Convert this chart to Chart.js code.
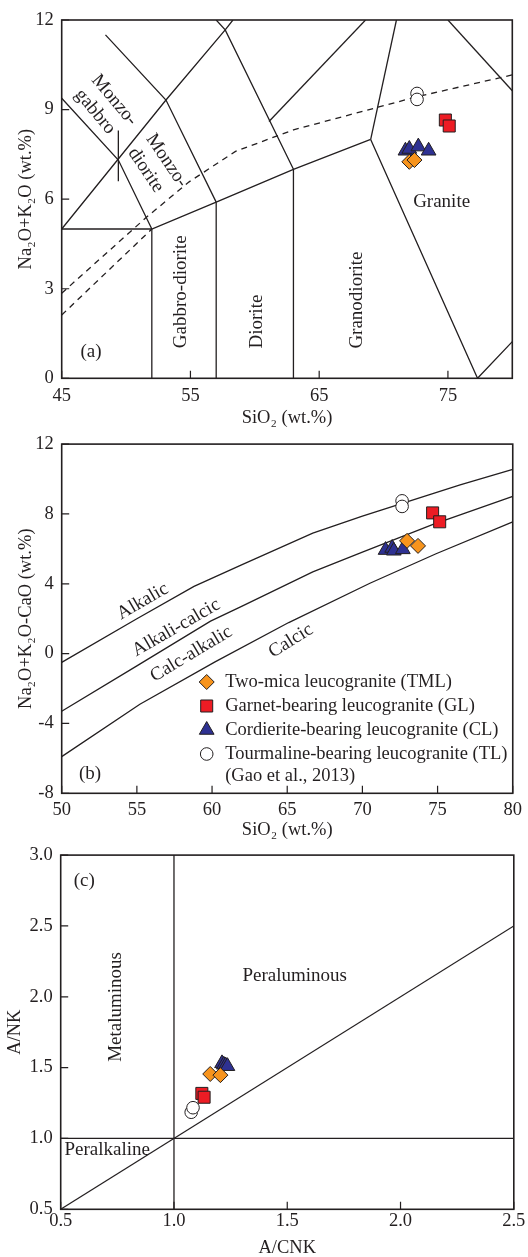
<!DOCTYPE html>
<html>
<head>
<meta charset="utf-8">
<title>Leucogranite classification diagrams</title>
<script src="https://cdn.jsdelivr.net/npm/chart.js@4.4.1/dist/chart.umd.min.js"></script>
<style>
  html, body { margin: 0; padding: 0; background: #fff; }
  #wrap { position: relative; width: 528px; height: 1257px; overflow: hidden; }
  #wrap canvas { position: absolute; left: 0; }
</style>
</head>
<body>
<div id="wrap">
  <canvas id="tas" width="528" height="428" style="top:0px"></canvas>
  <canvas id="mali" width="528" height="425" style="top:425px"></canvas>
  <canvas id="asi" width="528" height="421" style="top:836px"></canvas>
</div>
<script>
const FONT = "'Liberation Serif', 'Times New Roman', serif";
const INK = '#231f20';

// groups, same order in every panel
const groupNames = [
  'Two-mica leucogranite (TML)',
  'Garnet-bearing leucogranite (GL)',
  'Cordierite-bearing leucogranite (CL)',
  'Tourmaline-bearing leucogranite (TL)'
];
const legendNote = '(Gao et al., 2013)';

// ---- (a) TAS : [SiO2, Na2O+K2O]
const tasXTicks = [45, 55, 65, 75];
const tasYTicks = [0, 3, 6, 9, 12];
const tasTML = [[72.0, 7.25], [72.4, 7.31]];
const tasGL  = [[74.8, 8.65], [75.1, 8.45]];
const tasCL  = [[71.7, 7.62], [72.0, 7.68], [72.7, 7.76], [73.5, 7.62]];
const tasTL  = [[72.6, 9.54], [72.6, 9.34]];
const tasFields = [
  [[45, 5], [52, 5], [57, 5.9], [63, 7], [69, 8]],
  [[52, 0], [52, 5]],
  [[57, 0], [57, 5.9]],
  [[63, 0], [63, 7]],
  [[69, 8], [77.3, 0], [80, 1.23]],
  [[69, 8], [71, 12]],
  [[75, 12], [80, 9.63]],
  [[45, 9.38], [49.4, 7.31], [52, 5]],
  [[45, 5], [53.1, 9.32], [57.7, 11.67], [58.3, 12]],
  [[48.4, 11.5], [53.1, 9.32], [57, 5.9]],
  [[57, 12], [57.7, 11.67], [63, 7]],
  [[61.1, 8.6], [68.6, 12]],
  [[49.4, 8.3], [49.4, 6.6]]
];
const tasAlkaline = [
  [[45, 2.85], [51.6, 5.4], [54.9, 6.58], [58.5, 7.6], [63, 8.32], [72.6, 9.43], [80, 10.16]],
  [[45, 2.12], [52, 5]]
];

// ---- (b) MALI : [SiO2, Na2O+K2O-CaO]
const maliXTicks = [50, 55, 60, 65, 70, 75, 80];
const maliYTicks = [-8, -4, 0, 4, 8, 12];
const maliTML = [[72.97, 6.46], [73.7, 6.17]];
const maliGL  = [[74.67, 8.06], [75.14, 7.55]];
const maliCL  = [[71.54, 5.93], [71.98, 6.05], [72.09, 5.89], [72.69, 5.97]];
const maliTL  = [[72.64, 8.75], [72.64, 8.43]];
const maliAlkalic  = [[50, -0.5], [55, 2.0], [58.8, 3.85], [62, 5.1], [66.7, 6.9], [70, 7.87], [76.5, 9.66], [80, 10.55]];
const maliAlkCalc  = [[50, -3.3], [55, -0.7], [59.9, 1.86], [62, 2.72], [66.7, 4.68], [70, 5.81], [74.7, 7.4], [80, 9.0]];
const maliCalcAlk  = [[50, -5.9], [55.2, -2.9], [60.2, -0.47], [65.1, 1.78], [70.5, 4.03], [74.9, 5.72], [80, 7.55]];

// ---- (c) A/NK vs A/CNK
const asiXTicks = [0.5, 1.0, 1.5, 2.0, 2.5];
const asiYTicks = [0.5, 1.0, 1.5, 2.0, 2.5, 3.0];
const asiTML = [[1.16, 1.455], [1.205, 1.447]];
const asiGL  = [[1.123, 1.318], [1.133, 1.291]];
const asiCL  = [[1.212, 1.53], [1.22, 1.52], [1.228, 1.515], [1.236, 1.51]];
const asiTL  = [[1.076, 1.185], [1.084, 1.217]];
const asiLines = [
  [[1, 0.5], [1, 3]],
  [[0.5, 1], [2.5, 1]],
  [[0.5, 0.5], [2.5, 2.5]]
];

// marker look per group
const markStyles = [
  { style: 'rectRot',  r: 7.5, fill: '#f7941d' },
  { style: 'rect',     r: 8.5, fill: '#ed1c24' },
  { style: 'triangle', r: 8.5, fill: '#2e3192' },
  { style: 'circle',   r: 6.3, fill: '#ffffff' }
];

const pts = arr => arr.map(([x, y]) => ({ x, y }));

function markerSets(series) {
  return series.map((data, i) => ({
    label: groupNames[i],
    data: pts(data),
    showLine: false,
    pointStyle: markStyles[i].style,
    pointRadius: markStyles[i].r,
    backgroundColor: markStyles[i].fill,
    borderColor: INK,
    borderWidth: 1
  }));
}

function lineSets(lines, dash) {
  return lines.map(l => ({
    data: pts(l),
    showLine: true,
    pointRadius: 0,
    borderColor: INK,
    borderWidth: 1.3,
    borderDash: dash || [],
    tension: 0,
    fill: false
  }));
}

function fallbackPoint(ctx, style, r, x, y) {
  ctx.beginPath();
  if (style === 'circle') ctx.arc(x, y, r, 0, Math.PI * 2);
  else if (style === 'rect') { const s = r * Math.SQRT1_2; ctx.rect(x - s, y - s, 2 * s, 2 * s); }
  else if (style === 'rectRot') { ctx.moveTo(x, y - r); ctx.lineTo(x + r, y); ctx.lineTo(x, y + r); ctx.lineTo(x - r, y); ctx.closePath(); }
  else { ctx.moveTo(x, y - r); ctx.lineTo(x + r * 0.866, y + r / 2); ctx.lineTo(x - r * 0.866, y + r / 2); ctx.closePath(); }
  ctx.fill(); ctx.stroke();
}

// frame, inward ticks, field labels and legend
const decor = {
  id: 'decor',
  afterDraw(chart, args, opts) {
    const { ctx, chartArea: a, scales: { x, y } } = chart;
    ctx.save();
    ctx.strokeStyle = INK;
    ctx.lineWidth = 1.2;
    ctx.beginPath();
    x.ticks.forEach(t => {
      const px = x.getPixelForValue(t.value);
      ctx.moveTo(px, a.bottom);
      ctx.lineTo(px, a.bottom - 7.5);
    });
    y.ticks.forEach(t => {
      const py = y.getPixelForValue(t.value);
      ctx.moveTo(a.left, py);
      ctx.lineTo(a.left + 7.5, py);
    });
    ctx.stroke();
    ctx.lineWidth = 1.6;
    ctx.strokeRect(a.left, a.top, a.right - a.left, a.bottom - a.top);

    ctx.fillStyle = INK;
    ctx.font = '19px ' + FONT;
    ctx.textAlign = 'center';
    ctx.textBaseline = 'middle';
    (opts.labels || []).forEach(l => {
      ctx.save();
      ctx.translate(x.getPixelForValue(l.x), y.getPixelForValue(l.y));
      ctx.rotate((l.rot || 0) * Math.PI / 180);
      ctx.fillText(l.text, 0, 0);
      ctx.restore();
    });

    if (opts.legend) {
      const lg = opts.legend;
      const drawPoint = Chart.helpers && Chart.helpers.drawPoint;
      ctx.font = '18.5px ' + FONT;
      chart.data.datasets.filter(d => !d.showLine).forEach((d, i) => {
        const yy = lg.rows[i];
        ctx.fillStyle = d.backgroundColor;
        ctx.strokeStyle = d.borderColor;
        ctx.lineWidth = d.borderWidth;
        if (drawPoint) {
          drawPoint(ctx, { pointStyle: d.pointStyle, radius: d.pointRadius, borderWidth: d.borderWidth, rotation: 0 }, lg.x, yy);
        } else {
          fallbackPoint(ctx, d.pointStyle, d.pointRadius, lg.x, yy);
        }
        ctx.fillStyle = INK;
        ctx.textAlign = 'left';
        ctx.fillText(d.label, lg.x + lg.gap, yy);
      });
      ctx.fillText(legendNote, lg.x + lg.gap, lg.rows[4]);
    }
    ctx.restore();
  }
};

function axis(ticks, min, max, title, tickPad, titlePad, box, fmt, horizontal) {
  return {
    type: 'linear',
    min: min,
    max: max,
    grid: { display: false, drawTicks: false },
    border: { display: false },
    ticks: {
      color: INK,
      padding: tickPad,
      font: { family: FONT, size: 18.5 },
      callback: fmt || (v => String(v))
    },
    title: {
      display: true,
      text: title,
      color: INK,
      font: { family: FONT, size: 18.5, lineHeight: 1 },
      padding: titlePad
    },
    afterBuildTicks: s => { s.ticks = ticks.map(v => ({ value: v })); },
    afterFit: s => {
      if (horizontal) s.height = box.h - box.bottom;
      else s.width = box.left;
    }
  };
}

function panel(id, box, series, lines, dashed, xs, ys, labels, legend) {
  const datasets = markerSets(series).concat(lineSets(dashed, [6, 5])).concat(lineSets(lines));
  return new Chart(document.getElementById(id), {
    type: 'scatter',
    data: { datasets: datasets },
    options: {
      responsive: false,
      animation: false,
      events: [],
      layout: { padding: { left: 0, top: box.top, right: 528 - box.right, bottom: 0 } },
      plugins: {
        legend: { display: false },
        tooltip: { enabled: false },
        decor: { labels: labels, legend: legend }
      },
      scales: { x: xs, y: ys }
    },
    plugins: [decor]
  });
}

// (a) -------------------------------------------------------------
const boxA = { h: 428, left: 61.7, right: 512.3, top: 20, bottom: 378.3 };
panel('tas', boxA, [tasTML, tasGL, tasCL, tasTL], tasFields, tasAlkaline,
  axis(tasXTicks, 45, 80, 'SiO\u2082 (wt.%)', 7, { top: 0, bottom: 1 }, boxA, null, true),
  axis(tasYTicks, 0, 12, 'Na\u2082O+K\u2082O (wt.%)', 8, { top: 17, bottom: 0 }, boxA, null, false),
  [
    { text: 'Monzo-', x: 49.08, y: 9.32, rot: 50 },
    { text: 'gabbro', x: 47.59, y: 8.93, rot: 50 },
    { text: 'Monzo-', x: 53.15, y: 7.29, rot: 56 },
    { text: 'diorite', x: 51.52, y: 6.97, rot: 56 },
    { text: 'Gabbro-diorite', x: 54.26, y: 2.9, rot: -90 },
    { text: 'Diorite', x: 60.2, y: 1.9, rot: -90 },
    { text: 'Granodiorite', x: 67.9, y: 2.62, rot: -90 },
    { text: 'Granite', x: 74.51, y: 5.91 },
    { text: '(a)', x: 47.27, y: 0.89 }
  ], null);

// (b) -------------------------------------------------------------
const boxB = { h: 425, left: 61.7, right: 514.3, top: 13.3, bottom: 368.3 };
panel('mali', boxB, [maliTML, maliGL, maliCL, maliTL], [maliAlkalic, maliAlkCalc, maliCalcAlk], [],
  axis(maliXTicks, 50, 80, 'SiO\u2082 (wt.%)', 6, { top: 0, bottom: 11 }, boxB, null, true),
  axis(maliYTicks, -8, 12, 'Na\u2082O+K\u2082O-CaO (wt.%)', 8, { top: 17, bottom: 0 }, boxB, null, false),
  [
    { text: 'Alkalic', x: 55.39, y: 2.99, rot: -30 },
    { text: 'Alkali-calcic', x: 57.62, y: 1.48, rot: -30 },
    { text: 'Calc-alkalic', x: 58.62, y: -0.02, rot: -31 },
    { text: 'Calcic', x: 65.24, y: 0.73, rot: -32 },
    { text: '(b)', x: 51.88, y: -6.87 }
  ],
  { x: 206.7, gap: 18.5, rows: [257, 281, 305, 329, 351] });

// (c) -------------------------------------------------------------
const boxC = { h: 421, left: 60.7, right: 513.8, top: 15.7, bottom: 373.3 };
const oneDec = v => Number(v).toFixed(1);
panel('asi', boxC, [asiTML, asiGL, asiCL, asiTL], asiLines, [],
  axis(asiXTicks, 0.5, 2.5, 'A/CNK', 1, { top: 0, bottom: 0 }, boxC, oneDec, true),
  axis(asiYTicks, 0.5, 3.0, 'A/NK', 8, { top: 6, bottom: 0 }, boxC, oneDec, false),
  [
    { text: '(c)', x: 0.604, y: 2.814 },
    { text: 'Metaluminous', x: 0.745, y: 1.928, rot: -90 },
    { text: 'Peraluminous', x: 1.533, y: 2.15 },
    { text: 'Peralkaline', x: 0.705, y: 0.92 }
  ], null);
</script>
</body>
</html>
